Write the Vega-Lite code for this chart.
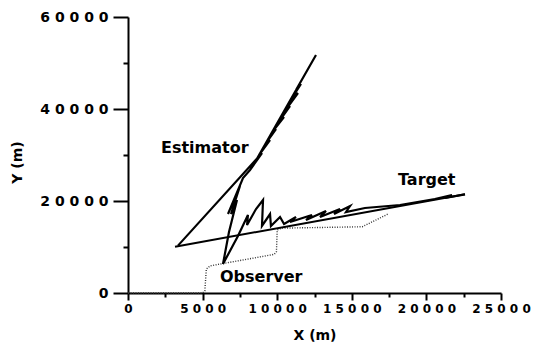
{
  "$schema": "https://vega.github.io/schema/vega-lite/v6.json",
  "width": 373,
  "height": 276,
  "autosize": {"type": "none"},
  "padding": {"left": 128, "top": 17, "right": 33, "bottom": 49},
  "background": "white",
  "config": {
    "view": {"stroke": null},
    "axis": {
      "domainColor": "black", "domainWidth": 2,
      "tickColor": "black", "tickWidth": 2,
      "labelColor": "black", "labelFont": "DejaVu Sans", "labelFontWeight": "bold", "labelFontSize": 12,
      "titleColor": "black", "titleFont": "DejaVu Sans", "titleFontWeight": "bold", "titleFontSize": 14,
      "grid": false, "labelOverlap": false, "labelFlush": false, "labelBound": false
    }
  },
  "datasets": {
    "observer": [
      {"i": 0, "x": 0, "y": 0},
      {"i": 1, "x": 5000, "y": 0},
      {"i": 2, "x": 5150, "y": 500},
      {"i": 3, "x": 5250, "y": 5200},
      {"i": 4, "x": 5500, "y": 5900},
      {"i": 5, "x": 9800, "y": 8400},
      {"i": 6, "x": 9950, "y": 9000},
      {"i": 7, "x": 10000, "y": 13700},
      {"i": 8, "x": 10300, "y": 14100},
      {"i": 9, "x": 15700, "y": 14400},
      {"i": 10, "x": 17450, "y": 17200}
    ],
    "target": [
      {"i": 0, "x": 3150, "y": 10065},
      {"i": 1, "x": 22586, "y": 21457}
    ],
    "estimator": [
      {"i": 0, "x": 3350, "y": 10300},
      {"i": 1, "x": 8650, "y": 29250},
      {"i": 2, "x": 12600, "y": 51740},
      {"i": 3, "x": 11259, "y": 44130},
      {"i": 4, "x": 11594, "y": 45435},
      {"i": 5, "x": 10991, "y": 42391},
      {"i": 6, "x": 11393, "y": 43478},
      {"i": 7, "x": 10656, "y": 40217},
      {"i": 8, "x": 10857, "y": 40652},
      {"i": 9, "x": 10187, "y": 37609},
      {"i": 10, "x": 10455, "y": 38261},
      {"i": 11, "x": 9718, "y": 35217},
      {"i": 12, "x": 9919, "y": 35652},
      {"i": 13, "x": 9249, "y": 32609},
      {"i": 14, "x": 9517, "y": 33261},
      {"i": 15, "x": 8780, "y": 30000},
      {"i": 16, "x": 8981, "y": 30435},
      {"i": 17, "x": 8176, "y": 26739},
      {"i": 18, "x": 7707, "y": 25000},
      {"i": 19, "x": 6702, "y": 17174},
      {"i": 20, "x": 7506, "y": 23261},
      {"i": 21, "x": 6903, "y": 17174},
      {"i": 22, "x": 7305, "y": 20217},
      {"i": 23, "x": 6769, "y": 13261},
      {"i": 24, "x": 6367, "y": 6304},
      {"i": 25, "x": 7370, "y": 12390},
      {"i": 26, "x": 8040, "y": 16960},
      {"i": 27, "x": 7980, "y": 14780},
      {"i": 28, "x": 8580, "y": 18260},
      {"i": 29, "x": 9050, "y": 20220},
      {"i": 30, "x": 8980, "y": 14570},
      {"i": 31, "x": 9520, "y": 17170},
      {"i": 32, "x": 9580, "y": 14570},
      {"i": 33, "x": 10190, "y": 16520},
      {"i": 34, "x": 10460, "y": 15000},
      {"i": 35, "x": 11260, "y": 16520},
      {"i": 36, "x": 10860, "y": 15430},
      {"i": 37, "x": 12330, "y": 16960},
      {"i": 38, "x": 11930, "y": 15870},
      {"i": 39, "x": 13270, "y": 17830},
      {"i": 40, "x": 12870, "y": 16520},
      {"i": 41, "x": 14210, "y": 18260},
      {"i": 42, "x": 13810, "y": 17170},
      {"i": 43, "x": 14880, "y": 18910},
      {"i": 44, "x": 14610, "y": 17610},
      {"i": 45, "x": 15880, "y": 18480},
      {"i": 46, "x": 18230, "y": 19130},
      {"i": 47, "x": 20570, "y": 20430},
      {"i": 48, "x": 21710, "y": 21300},
      {"i": 49, "x": 21250, "y": 20650},
      {"i": 50, "x": 22586, "y": 21457}
    ],
    "labels": [
      {"text": "Estimator", "x": 2212, "y": 31522},
      {"text": "Target", "x": 18095, "y": 24565},
      {"text": "Observer", "x": 6166, "y": 3478}
    ]
  },
  "encoding": {
    "x": {
      "field": "x", "type": "quantitative",
      "scale": {"domain": [0, 25000], "nice": false, "zero": false},
      "axis": {
        "title": "X (m)",
        "values": [0, 2500, 5000, 7500, 10000, 12500, 15000, 17500, 20000, 22500, 25000],
        "format": "d",
        "tickSize": {"condition": {"test": "datum.value % 5000 === 0", "value": 7}, "value": 4},
        "labelExpr": "datum.value % 5000 === 0 ? join(split(datum.label, ''), ' ') : ''",
        "labelPadding": 3,
        "titleY": 35, "titleBaseline": "top"
      }
    },
    "y": {
      "field": "y", "type": "quantitative",
      "scale": {"domain": [0, 60000], "nice": false, "zero": false},
      "axis": {
        "title": "Y (m)",
        "values": [0, 10000, 20000, 30000, 40000, 50000, 60000],
        "format": "d",
        "tickSize": {"condition": {"test": "datum.value % 20000 === 0", "value": 15}, "value": 5},
        "labelExpr": "datum.value % 20000 === 0 ? join(split(datum.label, ''), ' ') : ''",
        "labelFontSize": 14,
        "labelPadding": 5,
        "titleX": -111, "titleY": 145, "titleAlign": "center", "titleBaseline": "middle"
      }
    }
  },
  "layer": [
    {
      "data": {"name": "observer"},
      "mark": {"type": "line", "color": "#333333", "strokeWidth": 1.4, "strokeDash": [1, 1.5]},
      "encoding": {"order": {"field": "i", "type": "quantitative"}}
    },
    {
      "data": {"name": "target"},
      "mark": {"type": "line", "color": "black", "strokeWidth": 2},
      "encoding": {"order": {"field": "i", "type": "quantitative"}}
    },
    {
      "data": {"name": "estimator"},
      "mark": {"type": "line", "color": "black", "strokeWidth": 2.2},
      "encoding": {"order": {"field": "i", "type": "quantitative"}}
    },
    {
      "data": {"name": "labels"},
      "mark": {"type": "text", "align": "left", "baseline": "middle", "font": "DejaVu Sans", "fontWeight": "bold", "fontSize": 16, "color": "black"},
      "encoding": {"text": {"field": "text", "type": "nominal"}}
    }
  ]
}
